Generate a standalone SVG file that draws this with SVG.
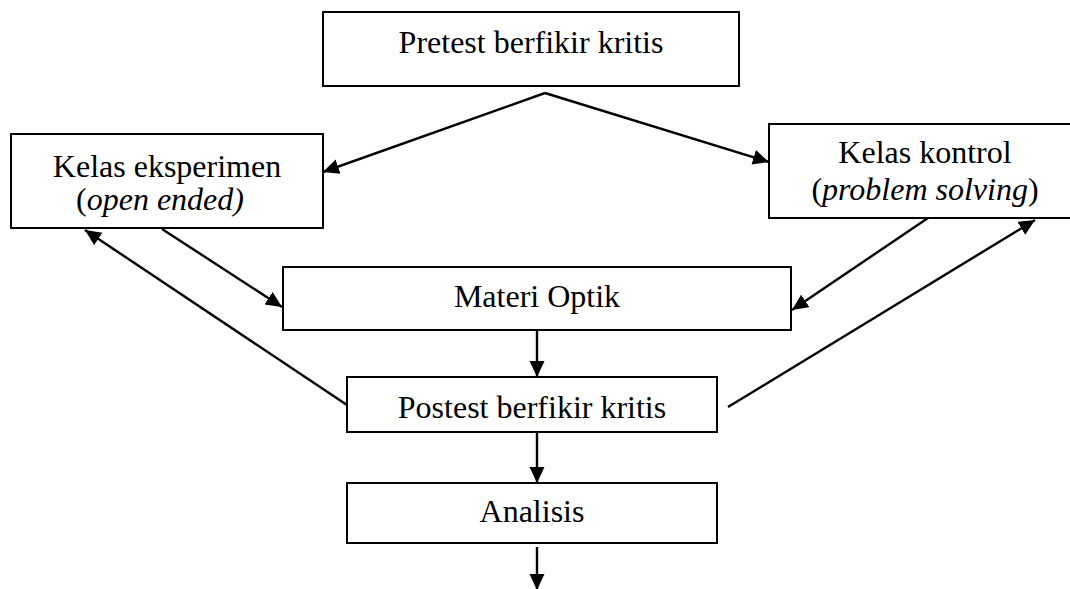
<svg xmlns="http://www.w3.org/2000/svg" width="1070" height="589" viewBox="0 0 1070 589">
  <style>
    .box { fill: #ffffff; stroke: #000000; stroke-width: 2; }
    .lbl { font-family: "Liberation Serif", "Times New Roman", serif; font-size: 32px; fill: #000000; text-anchor: middle; }
    .it { font-style: italic; }
    .edge { stroke: #000000; stroke-width: 2.4; fill: none; marker-end: url(#arrow); }
  </style>
  <defs>
    <marker id="arrow" markerUnits="userSpaceOnUse" markerWidth="18" markerHeight="16" refX="16" refY="7.5" orient="auto">
      <path d="M0,0 L16,7.5 L0,15 z" fill="#000000"/>
    </marker>
  </defs>
  <rect width="1070" height="589" fill="#ffffff"/>

  <g id="pretest">
    <rect class="box" x="323" y="12" width="416" height="74"/>
    <text class="lbl" x="531" y="53">Pretest berfikir kritis</text>
  </g>

  <g id="kelas-eksperimen">
    <rect class="box" x="11" y="134" width="312" height="94"/>
    <text class="lbl" x="167" y="177">Kelas eksperimen</text>
    <text class="lbl" x="160" y="210">(<tspan class="it">open ended)</tspan></text>
  </g>

  <g id="kelas-kontrol">
    <rect class="box" x="769" y="124" width="312" height="94"/>
    <text class="lbl" x="925" y="163">Kelas kontrol</text>
    <text class="lbl" x="925" y="200">(<tspan class="it">problem solving</tspan>)</text>
  </g>

  <g id="materi-optik">
    <rect class="box" x="283" y="267" width="508" height="63"/>
    <text class="lbl" x="537" y="307">Materi Optik</text>
  </g>

  <g id="postest">
    <rect class="box" x="347" y="377" width="370" height="55"/>
    <text class="lbl" x="532" y="418">Postest berfikir kritis</text>
  </g>

  <g id="analisis">
    <rect class="box" x="347" y="483" width="370" height="60"/>
    <text class="lbl" x="532" y="522">Analisis</text>
  </g>

  <g id="connectors">
    <line class="edge" x1="545" y1="93" x2="323" y2="172"/>
    <line class="edge" x1="545" y1="93" x2="769" y2="162"/>
    <line class="edge" x1="162" y1="229" x2="282" y2="307"/>
    <line class="edge" x1="928" y1="218" x2="792" y2="310"/>
    <line class="edge" x1="347" y1="405" x2="85" y2="230"/>
    <line class="edge" x1="728" y1="407" x2="1035" y2="220"/>
    <line class="edge" x1="537" y1="330" x2="537" y2="377"/>
    <line class="edge" x1="537" y1="432" x2="537" y2="483"/>
    <line class="edge" x1="537" y1="547" x2="537" y2="590"/>
  </g>
</svg>
